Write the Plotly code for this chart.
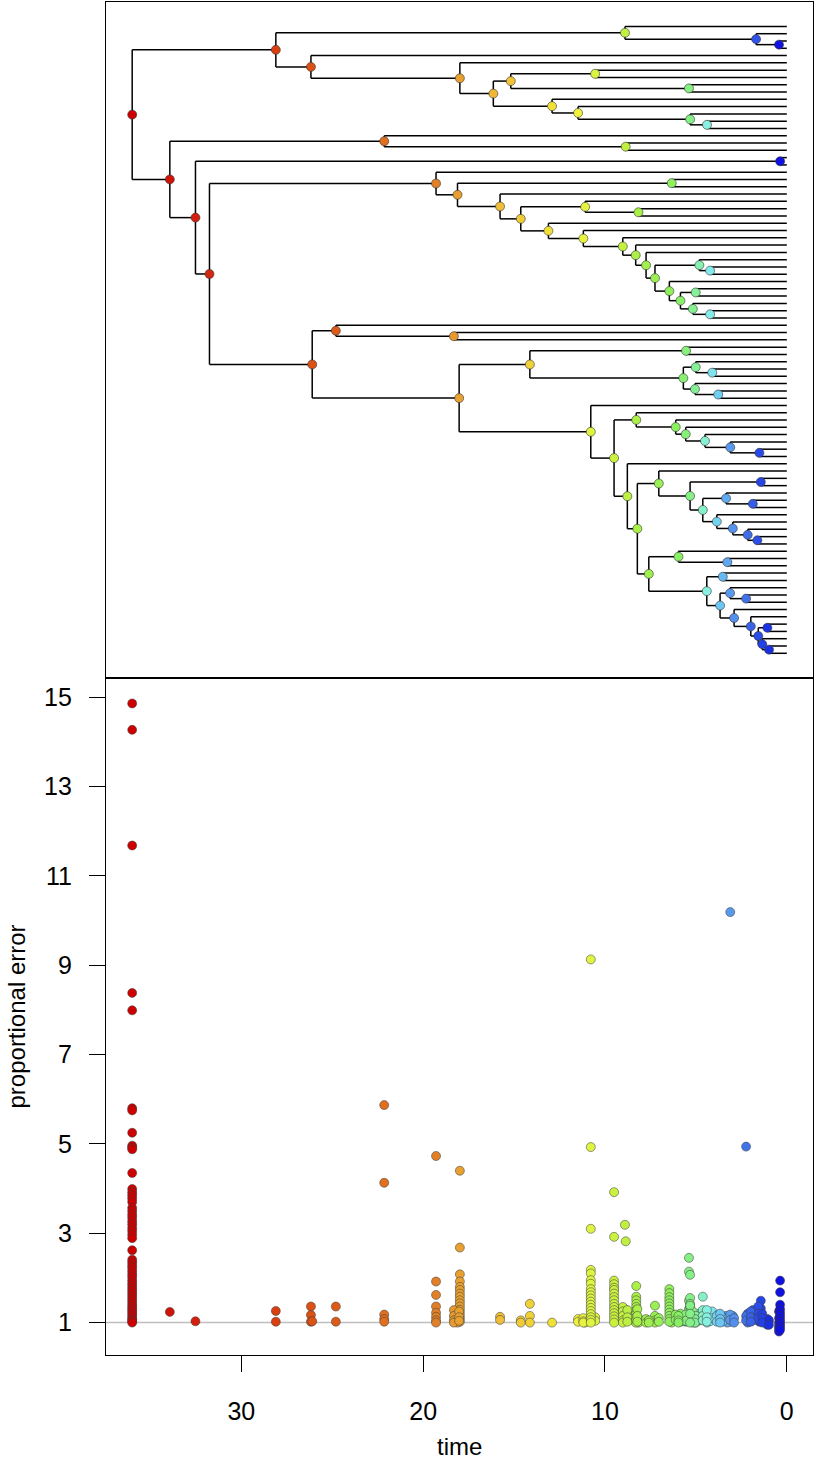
import plotly.graph_objects as go

# ---------------- tree data ----------------
node_names = ["root","A","A1","A2","A3","B","C","D","E","G","H","F","I","J","K",
              "L","M","N","O","P","Q","R","T","U","V","W","X","Z","Y","AA","AB","AC",
              "AD","AE","AF","AH","AG","AI","AJ","AK","AL","S","AM","AN","AO","AP",
              "AR","AS","AT","AV","AU","AW","AQ","AX","AY","BA","BB","BC","BD","BE",
              "AZ","BF","BG","BI","BJ","BK","BL","BN","BM","BO","BP","BQ","BH","BR",
              "BU","BT","BV","BW","BX","BZ","BY","CA","CC","CB","CD","CE"]
node_parent = [None,"root","A","A1","A2","A","B","C","D","E","E","D","F","I","J",
               "root","L","M","L","O","O","Q","R","T","T","V","W","X","W","Y","AA","AB",
               "AC","AD","AE","AF","AE","AG","AI","AI","AK","Q","S","AM","S","AO",
               "AP","AP","AS","AT","AS","AU","AO","AQ","AX","AY","BA","BB","BC","BD",
               "AX","AZ","BF","BG","BI","BI","BK","BL","BK","BM","BO","BP","BF","BH",
               "BR","BH","BT","BT","BW","BX","BW","BY","CA","CC","CC","CD"]
node_age = [36.0,28.1,8.9,1.69,0.43,26.17,17.98,16.14,15.18,10.54,5.38,12.91,11.48,5.32,4.39,
            33.93,22.14,8.86,32.52,0.37,31.75,19.29,18.11,6.33,15.77,14.63,11.09,8.16,13.11,11.19,9.02,8.31,
            7.74,7.25,4.81,4.22,6.46,5.85,5.01,5.17,4.22,26.1,24.8,18.31,18.02,14.13,
            5.54,5.69,5.01,4.10,5.05,3.77,10.78,9.50,8.28,6.11,5.56,4.50,3.11,1.51,
            8.77,8.22,7.04,5.32,1.43,4.62,3.34,1.87,3.85,2.97,2.15,1.62,7.59,5.96,
            3.27,4.40,3.52,3.67,3.12,2.24,2.90,1.98,1.57,1.07,1.35,0.98]
# parent node of each tip, listed from top to bottom
tip_parent = ["A1","A2","A3","A3","B","C","G","G","H","H","F","I","J","K","K",
              "M","N","N","P","P","R","U","U","V","X","Z","Z","Y","AA","AB","AC","AD",
              "AF","AH","AH","AG","AJ","AJ","AK","AL","AL","AM","AN","AN","AR","AR",
              "AT","AV","AV","AU","AW","AW","AQ","AY","BA","BB","BC","BD","BE","BE",
              "AZ","BG","BJ","BJ","BL","BN","BN","BM","BO","BP","BQ","BQ","BR","BU",
              "BU","BV","BV","BX","BZ","BZ","BY","CA","CB","CB","CD","CE","CE"]
tip_age = 0.0

# ---------------- proportional errors per node ----------------
node_errors = {
    "root": [14.86,14.27,11.68,8.38,7.99,5.80,5.75,5.25,4.96,4.92,4.88,4.35,3.99,3.92,3.85,3.78,
             3.70,3.57,3.50,3.42,3.35,3.27,3.20,3.12,3.05,2.97,2.89,2.62,2.41,2.35,2.28,2.22,
             2.15,2.08,2.02,1.95,1.88,1.82,1.76,1.70,1.64,1.58,1.52,1.46,1.40,1.35,1.30,1.25,
             1.20,1.15,1.10,1.06,1.03,1.00],
    "L": [1.24], "O": [1.03], "A": [1.26,1.02], "B": [1.36,1.17,1.02], "S": [1.03],
    "AM": [1.36,1.02], "M": [5.87,4.13,1.18,1.08,1.02],
    "R": [4.73,1.92,1.62,1.36,1.22,1.13,1.05,1.00],
    "AN": [1.28,1.15,1.05,1.00], "T": [1.20,1.08,1.00], "AO": [1.25,1.12,1.04],
    "C": [4.40,2.68,2.08,1.92,1.80,1.73,1.65,1.58,1.50,1.43,1.36,1.29,1.22,1.15,1.08,1.02],
    "V": [1.13,1.06], "W": [1.05,1.00], "AP": [1.42,1.15,1.00], "F": [1.00],
    "I": [1.08,1.02], "AA": [1.10,1.03,1.00], "X": [1.05,1.00],
    "AQ": [9.13,4.93,3.10,2.18,2.10,1.95,1.87,1.75,1.68,1.61,1.54,1.47,1.40,1.33,1.26,1.19,1.12,1.06,1.00],
    "G": [1.12,1.04],
    "AX": [3.92,2.92,1.94,1.86,1.78,1.73,1.65,1.57,1.50,1.42,1.35,1.28,1.21,1.14,1.07,1.00],
    "AB": [1.35,1.25,1.15,1.05,1.00], "A1": [3.19,1.30,1.10], "N": [2.82,1.20,1.05],
    "AZ": [1.28,1.12,1.02], "AC": [1.22,1.08,1.00],
    "AY": [1.82,1.58,1.50,1.42,1.35,1.28,1.20,1.12,1.05],
    "BF": [1.30,1.15,1.02], "Z": [1.10,1.00], "AD": [1.08,1.00], "BH": [1.05,1.00],
    "AE": [1.38,1.15,1.05,1.00], "BG": [1.10,1.02],
    "AG": [1.75,1.66,1.57,1.50,1.43,1.36,1.29,1.22,1.15,1.08,1.02],
    "U": [1.20,1.10,1.00], "BA": [1.18,1.06], "BR": [1.15,1.05,1.00], "AI": [1.20,1.10,1.02],
    "AS": [1.12,1.03], "BB": [1.18,1.04], "AR": [1.12,1.02],
    "H": [2.45,2.14,1.49,1.30,1.10], "J": [2.07,1.55,1.42,1.35,1.25,1.15,1.05],
    "BI": [1.38,1.20,1.00], "AK": [1.25,1.10,1.00], "AU": [1.08,1.00], "AJ": [1.10,1.00],
    "AT": [1.15,1.02], "AF": [1.20,1.05], "BK": [1.58,1.28,1.15,1.05], "BC": [1.22,1.08],
    "BT": [1.28,1.12,1.02], "K": [1.10,1.00], "AH": [1.20,1.05], "AL": [1.15,1.03],
    "AV": [1.25,1.10], "BM": [1.15,1.02], "AW": [1.18,1.05], "BW": [1.20,1.08,1.00],
    "BV": [1.12,1.02], "BL": [1.15,1.05], "BU": [1.10,1.00], "BX": [1.18,1.06],
    "BD": [10.19,1.12,1.02], "BO": [1.15,1.05], "BY": [1.10,1.00], "BZ": [4.94,1.15,1.05],
    "BP": [1.20,1.08,1.00], "CA": [1.25,1.12,1.02], "BN": [1.28,1.15,1.05], "A2": [1.20,1.08],
    "BQ": [1.30,1.18,1.06], "CC": [1.36,1.20,1.10], "BE": [1.25,1.12,1.02],
    "BJ": [1.49,1.32,1.15,1.05], "CD": [1.20,1.10,1.00], "CB": [1.08,0.98,0.95],
    "CE": [1.05,0.95],
    "P": [1.94,1.68,1.40,1.30,1.22,1.15,1.08,1.02,0.96,0.90,0.84],
    "A3": [1.25,1.10,1.00,0.92,0.86,0.80],
}
baseline = 1.0
x_ticks = [0, 10, 20, 30]
y_ticks = [1, 3, 5, 7, 9, 11, 13, 15]

# colour ramp over node age (age, colour)
ramp = [(0.0,"#0A0AD8"),(0.4,"#1010E0"),(1.0,"#1830E4"),(1.5,"#2848E8"),(2.2,"#4070E8"),
        (3.1,"#5898EE"),(3.8,"#70D0F2"),(4.3,"#88F0EC"),(5.0,"#84F098"),(6.0,"#88F060"),
        (8.2,"#A8F048"),(9.0,"#C4F040"),(10.7,"#DCF440"),(11.5,"#F0F040"),(13.0,"#F0E038"),
        (15.5,"#F0C038"),(18.0,"#E8A030"),(19.3,"#E28028"),(22.1,"#E07020"),(26.2,"#DC5014"),
        (28.1,"#D84010"),(32.0,"#D42410"),(36.0,"#CC0000")]
age_max = 36.0
colorscale = [[a / age_max, c] for a, c in ramp]

# ---------------- layout of the tree ----------------
age = dict(zip(node_names, node_age))
children = {n: [] for n in node_names}
for n, p in zip(node_names, node_parent):
    if p is not None:
        children[p].append(("node", n))
for i, p in enumerate(tip_parent):
    children[p].append(("tip", i + 1))

ypos = {}
def node_y(n):
    if n in ypos:
        return ypos[n]
    ys = [k if kind == "tip" else node_y(k) for kind, k in children[n]]
    ypos[n] = sum(ys) / len(ys)
    return ypos[n]
for n in node_names:
    node_y(n)

ex, ey = [], []
for n in node_names:
    cys = []
    for kind, k in children[n]:
        cy = k if kind == "tip" else ypos[k]
        cx = tip_age if kind == "tip" else age[k]
        cys.append(cy)
        ex += [age[n], cx, None]
        ey += [cy, cy, None]
    ex += [age[n], age[n], None]
    ey += [min(cys), max(cys), None]

fig = go.Figure()
fig.add_trace(go.Scatter(x=ex, y=ey, mode="lines", line=dict(color="black", width=1.5),
                         xaxis="x2", yaxis="y2", hoverinfo="skip", showlegend=False))
fig.add_trace(go.Scatter(
    x=node_age, y=[ypos[n] for n in node_names], mode="markers", xaxis="x2", yaxis="y2",
    marker=dict(size=9, color=node_age, colorscale=colorscale, cmin=0, cmax=age_max,
                line=dict(color="rgba(50,50,50,0.85)", width=0.7)),
    showlegend=False))

# ---------------- scatter ----------------
sx, sy = [], []
for n in node_names:
    for v in node_errors.get(n, []):
        sx.append(age[n])
        sy.append(v)
fig.add_trace(go.Scatter(
    x=sx, y=sy, mode="markers", xaxis="x", yaxis="y",
    marker=dict(size=9, color=sx, colorscale=colorscale, cmin=0, cmax=age_max,
                line=dict(color="rgba(60,60,60,0.75)", width=0.7)),
    showlegend=False))

fig.add_shape(type="line", xref="x domain", yref="y", x0=0, x1=1, y0=baseline, y1=baseline,
              line=dict(color="#BEBEBE", width=1.5), layer="below")

split = 677 / 1353
font = dict(family="Liberation Sans, Arial, sans-serif", color="black")
axis_common = dict(showline=True, mirror=True, linecolor="black", linewidth=1.3,
                   showgrid=False, zeroline=False)
fig.update_layout(
    width=816, height=1462, margin=dict(l=106, r=3, t=2, b=107),
    paper_bgcolor="white", plot_bgcolor="white", font=font,
    xaxis=dict(domain=[0, 1], anchor="y", range=[37.44, -1.44], tickvals=x_ticks,
               ticks="outside", ticklen=16, tickwidth=1.3, tickcolor="black",
               tickfont=dict(size=25), ticklabelstandoff=18, **axis_common),
    yaxis=dict(domain=[0, split], anchor="x", range=[0.275, 15.43], tickvals=y_ticks,
               ticks="outside", ticklen=16, tickwidth=1.3, tickcolor="black",
               tickfont=dict(size=25), ticklabelstandoff=12, **axis_common),
    xaxis2=dict(domain=[0, 1], anchor="y2", matches="x", showticklabels=False, ticks="",
                **axis_common),
    yaxis2=dict(domain=[split, 1], anchor="x2", range=[90.39, -2.35], showticklabels=False,
                ticks="", **axis_common),
    annotations=[
        dict(text="time", xref="paper", yref="paper", x=0.5, y=-(1446 - 1355) / 1353,
             xanchor="center", yanchor="middle", showarrow=False, font=dict(size=24)),
        dict(text="proportional error", xref="paper", yref="paper", x=(16 - 106) / 707,
             y=split / 2, xanchor="center", yanchor="middle", textangle=-90,
             showarrow=False, font=dict(size=24)),
    ],
)
fig.write_html("out.html", config={"displayModeBar": False},
               post_script="document.body.style.margin='0';document.body.style.padding='0';"
                           "document.documentElement.style.overflow='hidden';")
